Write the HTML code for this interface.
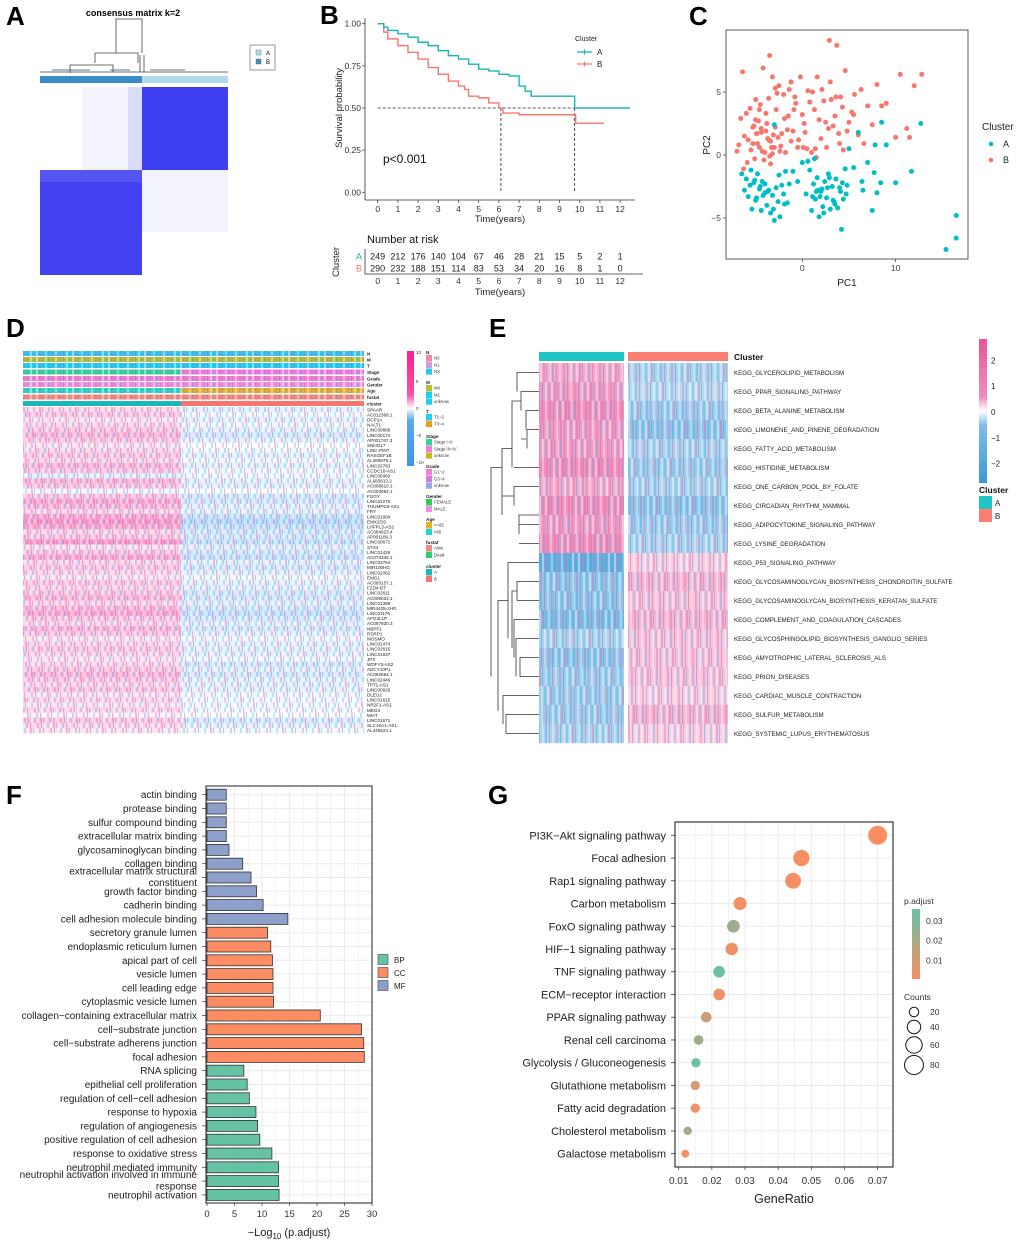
<!DOCTYPE html>
<html><head><meta charset="utf-8">
<style>
html,body{margin:0;padding:0;background:#fff;}
svg{display:block;font-family:"Liberation Sans",Arial,sans-serif;}
</style></head>
<body>
<svg id="fig" width="1020" height="1247" viewBox="0 0 1020 1247" xmlns="http://www.w3.org/2000/svg">
<defs>
<pattern id="stripes" patternUnits="userSpaceOnUse" width="36" height="10">
<rect x="0" y="0" width="2" height="10" fill="#fff" opacity="0.4"/>
<rect x="3" y="0" width="2" height="10" fill="#e8549a" opacity="0.35"/>
<rect x="6" y="0" width="1" height="10" fill="#3a9ad9" opacity="0.4"/>
<rect x="9" y="0" width="2" height="10" fill="#fff" opacity="0.3"/>
<rect x="12" y="0" width="2" height="10" fill="#3a9ad9" opacity="0.3"/>
<rect x="16" y="0" width="1" height="10" fill="#e8549a" opacity="0.45"/>
<rect x="19" y="0" width="2" height="10" fill="#fff" opacity="0.35"/>
<rect x="23" y="0" width="2" height="10" fill="#e8549a" opacity="0.3"/>
<rect x="27" y="0" width="1" height="10" fill="#3a9ad9" opacity="0.45"/>
<rect x="30" y="0" width="2" height="10" fill="#fff" opacity="0.4"/>
<rect x="33" y="0" width="2" height="10" fill="#3a9ad9" opacity="0.25"/>
</pattern>
<linearGradient id="dcbar" x1="0" y1="0" x2="0" y2="1">
<stop offset="0" stop-color="#ff1f8e"/><stop offset="0.38" stop-color="#ff4fa8"/><stop offset="0.5" stop-color="#ffffff"/><stop offset="0.6" stop-color="#5aaaf0"/><stop offset="1" stop-color="#3a94ec"/>
</linearGradient>
<linearGradient id="ecbar" x1="0" y1="0" x2="0" y2="1">
<stop offset="0" stop-color="#e8549a"/><stop offset="0.4" stop-color="#f08cbb"/><stop offset="0.5" stop-color="#ffffff"/><stop offset="0.6" stop-color="#7fbde6"/><stop offset="1" stop-color="#3a9ad9"/>
</linearGradient>
<linearGradient id="gcbar" x1="0" y1="0" x2="0" y2="1">
<stop offset="0" stop-color="#66c2a5"/><stop offset="0.5" stop-color="#b1a784"/><stop offset="1" stop-color="#fc8d62"/>
</linearGradient>
</defs>

<g font-weight="bold" font-size="26" fill="#000">
<text x="6" y="25">A</text>
<text x="320" y="24">B</text>
<text x="689" y="25">C</text>
<text x="6" y="337">D</text>
<text x="489" y="337">E</text>
<text x="6" y="804">F</text>
<text x="488" y="804">G</text>
</g>

<g id="pA">
<text x="133" y="16" font-size="9" font-weight="bold" text-anchor="middle">consensus matrix k=2</text>
<g stroke="#444" stroke-width="0.8" fill="none">
<path d="M116 53 V19 H142 V39"/>
<path d="M95 53 V63"/><path d="M95 53 H138 V63"/>
<path d="M70 65 V73 M70 65 H113 V72"/>
<path d="M142 39 V53"/><path d="M140 55 V72 M144 55 V72"/>
<path d="M40 72 H228 M52 70 H90 M110 70 H130 M150 70 H185"/>
</g>
<rect x="40" y="76" width="102" height="7" fill="#3a8cc4"/>
<rect x="142" y="76" width="86" height="7" fill="#b3dbe9"/>
<rect x="40" y="87" width="188" height="188" fill="#fff"/>
<rect x="142" y="87" width="86" height="83" fill="#3f3ff2"/>
<rect x="40" y="170" width="102" height="105" fill="#4242f0"/>
<rect x="82" y="87" width="60" height="83" fill="#dcdcfc" opacity="0.35"/>
<rect x="128" y="87" width="14" height="83" fill="#b0b0fa" opacity="0.35"/>
<rect x="142" y="170" width="86" height="62" fill="#dcdcfc" opacity="0.35"/>
<rect x="40" y="170" width="102" height="12" fill="#8080f6" opacity="0.3"/>
<rect x="250" y="45" width="25" height="25" fill="#fff" stroke="#555" stroke-width="0.6"/>
<rect x="256" y="50" width="5" height="5" fill="#b3dbe9" stroke="#666" stroke-width="0.4"/>
<text x="266" y="55" font-size="6">A</text>
<rect x="256" y="59" width="5" height="5" fill="#3a8cc4" stroke="#666" stroke-width="0.4"/>
<text x="266" y="64" font-size="6">B</text>
</g>

<g id="pB"></g>
<g id="pC"></g>
<g id="pD"></g>
<g id="pE"></g>
<g id="pF"></g>
<g id="pG"></g>
</svg>

<script>
const kmA_t = [0,0.3,0.5,1,1.5,2,2.5,3,3.5,4,4.5,5,5.5,6,6.5,7,7.3,7.6,9.75,9.75,12.5];
const kmA_s = [1,0.98,0.96,0.94,0.92,0.89,0.87,0.84,0.81,0.79,0.76,0.73,0.72,0.70,0.69,0.63,0.60,0.57,0.57,0.50,0.50];
const kmB_t = [0,0.3,0.5,1,1.5,2,2.5,3,3.5,4,4.3,4.5,5,5.5,6,6.2,7,9.8,9.8,11.2];
const kmB_s = [1,0.95,0.91,0.87,0.83,0.79,0.74,0.70,0.66,0.63,0.61,0.57,0.56,0.53,0.50,0.47,0.46,0.46,0.41,0.41];
const riskA = [249,212,176,140,104,67,46,28,21,15,5,2,1];
const riskB = [290,232,188,151,114,83,53,34,20,16,8,1,0];
const timeTicks = [0,1,2,3,4,5,6,7,8,9,10,11,12];
const survTicks = [0,0.25,0.5,0.75,1];
const medians = [6.1,9.75];

const pcB_x = [-7,-6.6,-6.4,-6,-5.8,-5.5,-5.3,-5,-4.8,-4.6,-4.4,-4.2,-4,-3.8,-3.6,-3.4,-3.2,-3,-2.8,-2.5,-2.2,-2,-1.8,-1.5,-1.2,-1,-0.8,-0.5,-0.2,0,0.3,0.6,1,1.3,1.6,2,2.3,2.6,3,3.3,3.6,4,4.3,4.6,5,5.3,5.6,6,6.3,6.6,7,7.5,8,8.5,9,10,10.5,11.2,11.5,12,12.8,-6.2,-5.6,-5.1,-4.7,-4.3,-3.9,-3.5,-3.1,-2.7,-2.3,-1.9,-1.4,-0.9,-0.4,0.2,0.8,1.4,2.1,2.8,3.5,4.1,4.8,5.5,-5.9,-5.2,-4.5,-3.7,-3.3,-2.9,-2.4,-1.6,-0.7,0.5,1.1,1.8,2.5,3.1,3.9,-3.5,2.9,3.7,-5,-4.1,-3.4,-2.6,-6.8,-6.3,-1.2,0.1,1.5,4.4,-4.6,-3.9,-3.2,-4.9,-4.4,-2.9,-5.3,-3.6];
const pcB_y = [0.3,2.9,6.6,3.3,1.2,0.4,2.2,4.4,0.9,3.6,1.8,6.9,0.2,2.5,4.5,1.1,6.2,0.6,3.6,5.5,1.7,4.8,0.2,3.1,5.8,1.9,4.6,0.6,6.2,3.2,1.8,5.1,0.2,3.6,6.2,1.3,4.3,0.6,5.8,2.3,4.6,0.9,3.8,6.7,2.6,3.4,4.8,1.6,5.2,0.9,3.9,2.4,5.6,3.9,4.1,1.4,6.4,2.1,1.4,5.5,6.4,1.5,3.7,-0.3,2.7,0.3,3.3,-0.1,1.6,4.9,0.7,2.9,5.2,3.6,1.2,2.5,4.2,0.5,5.2,2.1,3.1,4.6,1.9,3.2,-0.6,2.3,4,1.3,0.6,5.3,0.3,2,4.1,0.5,5,2.8,2.6,4.4,1.7,7.9,9.1,8.7,2.8,-0.4,-0.7,1.4,0.8,-1.1,1.1,0.6,-0.2,0.4,0.6,1.9,0.1,1.7,2.1,2.2,0.9,1.2];
const pcA_x = [-6.5,-6.2,-6,-5.8,-5.6,-5.4,-5.2,-5,-4.8,-4.6,-4.4,-4.2,-4,-3.8,-3.6,-3.4,-3.2,-3,-2.8,-2.6,-2.4,-2.2,-2,-1.8,-1.6,-1.4,-1,-0.5,0,0.4,0.8,1,1.2,1.4,1.6,1.8,2,2.2,2.4,2.6,2.8,3,3.2,3.4,3.6,3.8,4,4.2,4.4,4.6,4.8,5,5.5,6,6.5,7,7.5,7.8,8,8.5,9,10,11.7,12.7,16.5,16.5,15.4,4.3,-5.5,-4.9,-4.3,-3.7,-3.1,-2.5,-1.9,0.6,1.1,1.7,2.3,2.9,3.5,4.1,4.7,1.3,2.1,3.3,-3,6.4,7.7,8.4,-4.5,-4,-5.1,1.9,2.7,1.5];
const pcA_y = [-1.5,-2.8,-1.9,-3.3,-2.4,-4.3,-2.2,-3.6,-1.5,-2.7,-4.4,-3.2,-2.3,-4,-2.8,-4.6,-3.2,-5.2,-2.6,-3.7,-4.9,-2.4,-3.1,-1.3,-3.8,-2.3,-1.3,-2.1,-0.6,-3.1,-1.2,-4.4,-2.3,-3.5,-1.8,-4.9,-2.9,-4.1,-2.1,-3.4,-1.5,-4.3,-2.5,-3.7,-1.9,-4.2,-2.6,-5.9,-3.5,-1.1,-2.4,0.5,-1,1.8,-2.8,-0.6,-4.4,0.8,-3,2.6,0.8,-2.2,-1.3,2.5,-4.8,-6.6,-7.5,-2.2,-1.2,-3.4,-2.1,-2.9,-4.3,-1.6,-3.9,-0.5,-3.3,-2.8,-4.6,-1.8,-3.9,-2.9,-3.1,-0.3,-2.7,-3.6,2.4,-2.1,-1.4,-2.2,-2.5,-3,-2,-3.3,-2.6,-2.9];
const pc1Ticks = [0,10];
const pc2Ticks = [-5,0,5];

const genesD = ["SPAAR","AC012368.1","DCP1A","NALT1","LINC00886","LINC00174","AP001767.3","SNHG17","LINC-PINT","RASGEF1B","AL390879.1","LINC02783","CCDC18-AS1","LINC00460","AL683813.2","AC008610.1","AC003092.1","FGGY","LINC02275","THUMPD3-AS1","FRY","LINC01004","EMX2OS","LHFPL3-AS2","AC084923.4","AP001189.3","LINC00671","STX4","LINC01426","AC073346.1","LINC02754","MIR100HG","LINC02062","EMG1","AC093157.1","FZD4-DT","LINC02611","AC009022.1","LINC01389","MIR4435-2HG","LINC01176","AFG3L1P","AC067930.3","NBPF1","RSRP1","MOSMO","LINC01474","LINC02615","LINC01637","JPX","WDFY3-AS2","ADCY10P1","AC092894.1","LINC02446","TPT1-AS1","LINC00926","DLEU2","LINC01615","NR2F1-AS1","MEG3","MIAT","LINC01671","SLC16A1-AS1","AL445524.1"];
const dA = [0.3,0.4,0.2,0.3,0.4,0.5,0.4,0.2,0.3,0.4,0.3,0.5,0.4,-0.2,0.5,0.4,-0.1,0.4,0.6,0.5,0.3,0.6,0.7,0.6,0.3,0.4,0.7,0.2,0.4,0.6,0.3,0.4,0.3,0.2,0.4,0.3,0.4,0.5,0.3,0.5,0.6,0.4,0.3,0.5,0.4,0.2,0.3,0.4,0.3,0.2,0.3,0.4,0.5,0.4,0.3,0.4,0.2,0.3,0.2,0.3,0.1,0.4,0.3,0.2];
const dB = [-0.2,-0.1,-0.2,-0.1,-0.2,-0.3,-0.2,0,-0.1,-0.2,-0.1,-0.2,-0.1,-0.1,-0.2,-0.2,0,-0.3,-0.3,-0.2,-0.2,-0.4,-0.5,-0.4,-0.3,-0.3,-0.4,-0.2,-0.3,-0.4,-0.2,-0.3,-0.2,-0.1,-0.2,-0.2,-0.3,-0.3,-0.2,-0.3,-0.4,-0.3,-0.2,-0.3,-0.2,-0.1,-0.2,-0.2,-0.2,-0.1,-0.3,-0.2,-0.3,-0.2,-0.2,-0.2,-0.1,-0.1,-0.1,-0.1,0,-0.3,-0.2,-0.1];
const annoNames = ["N","M","T","Stage","Grade","Gender","Age","fustat","cluster"];
const annoColA = ["#35c6ef","#b4c232","#1fcfee","#2fd49a","#f47fd6","#f28fe0","#27d6c6","#f58a7c","#1cb8b8"];
const annoColB = ["#35c6ef","#b4c232","#1fcfee","#f07ce0","#f47fd6","#f28fe0","#e0b32a","#f58a7c","#f8766d"];

const keggE = ["KEGG_GLYCEROLIPID_METABOLISM","KEGG_PPAR_SIGNALING_PATHWAY","KEGG_BETA_ALANINE_METABOLISM","KEGG_LIMONENE_AND_PINENE_DEGRADATION","KEGG_FATTY_ACID_METABOLISM","KEGG_HISTIDINE_METABOLISM","KEGG_ONE_CARBON_POOL_BY_FOLATE","KEGG_CIRCADIAN_RHYTHM_MAMMAL","KEGG_ADIPOCYTOKINE_SIGNALING_PATHWAY","KEGG_LYSINE_DEGRADATION","KEGG_P53_SIGNALING_PATHWAY","KEGG_GLYCOSAMINOGLYCAN_BIOSYNTHESIS_CHONDROITIN_SULFATE","KEGG_GLYCOSAMINOGLYCAN_BIOSYNTHESIS_KERATAN_SULFATE","KEGG_COMPLEMENT_AND_COAGULATION_CASCADES","KEGG_GLYCOSPHINGOLIPID_BIOSYNTHESIS_GANGLIO_SERIES","KEGG_AMYOTROPHIC_LATERAL_SCLEROSIS_ALS","KEGG_PRION_DISEASES","KEGG_CARDIAC_MUSCLE_CONTRACTION","KEGG_SULFUR_METABOLISM","KEGG_SYSTEMIC_LUPUS_ERYTHEMATOSUS"];
const eA = [0.7,0.8,0.9,0.8,0.8,0.9,0.7,0.9,0.8,0.9,-1.1,-0.8,-0.8,-0.9,-0.6,-0.8,-0.7,-0.7,-0.7,-0.6];
const eB = [-0.6,-0.5,-0.7,-0.8,-0.6,-0.7,-0.6,-0.8,-0.7,-0.6,0.4,0.6,0.5,0.6,0.5,0.5,0.5,0.4,0.6,0.4];
const eTicks = [2,1,0,-1,-2];

const goTerms = ["actin binding","protease binding","sulfur compound binding","extracellular matrix binding","glycosaminoglycan binding","collagen binding","extracellular matrix structural|constituent","growth factor binding","cadherin binding","cell adhesion molecule binding","secretory granule lumen","endoplasmic reticulum lumen","apical part of cell","vesicle lumen","cell leading edge","cytoplasmic vesicle lumen","collagen\u2212containing extracellular matrix","cell\u2212substrate junction","cell\u2212substrate adherens junction","focal adhesion","RNA splicing","epithelial cell proliferation","regulation of cell\u2212cell adhesion","response to hypoxia","regulation of angiogenesis","positive regulation of cell adhesion","response to oxidative stress","neutrophil mediated immunity","neutrophil activation involved in immune|response","neutrophil activation"];
const goValues = [3.5,3.5,3.5,3.5,4,6.5,8,9,10.2,14.7,11,11.6,11.9,12,12,12.1,20.6,28.1,28.5,28.6,6.7,7.3,7.7,8.9,9.2,9.6,11.8,13,13,13.1];
const goOnt = ["MF","MF","MF","MF","MF","MF","MF","MF","MF","MF","CC","CC","CC","CC","CC","CC","CC","CC","CC","CC","BP","BP","BP","BP","BP","BP","BP","BP","BP","BP"];
const goTicks = [0,5,10,15,20,25,30];

const keggTerms = ["PI3K\u2212Akt signaling pathway","Focal adhesion","Rap1 signaling pathway","Carbon metabolism","FoxO signaling pathway","HIF\u22121 signaling pathway","TNF signaling pathway","ECM\u2212receptor interaction","PPAR signaling pathway","Renal cell carcinoma","Glycolysis / Gluconeogenesis","Glutathione metabolism","Fatty acid degradation","Cholesterol metabolism","Galactose metabolism"];
const geneRatio = [0.070,0.047,0.0445,0.0285,0.0265,0.026,0.0222,0.0222,0.0183,0.016,0.0152,0.015,0.015,0.0127,0.012];
const counts = [80,59,56,38,36,35,30,30,25,21,19,19,19,16,14];
const padj = [0.0005,0.001,0.0015,0.002,0.022,0.003,0.034,0.003,0.012,0.022,0.033,0.008,0.003,0.022,0.002];
const grTicks = [0.01,0.02,0.03,0.04,0.05,0.06,0.07];
const padjTicks = [0.01,0.02,0.03];
const countTicks = [20,40,60,80];

const NS = "http://www.w3.org/2000/svg";
function mk(tag, attrs, parent, txt){
  const e = document.createElementNS(NS, tag);
  for (const k in attrs) e.setAttribute(k, attrs[k]);
  if (txt !== undefined) e.textContent = txt;
  parent.appendChild(e);
  return e;
}
function hex2rgb(h){return [parseInt(h.slice(1,3),16),parseInt(h.slice(3,5),16),parseInt(h.slice(5,7),16)];}
function mix(a,b,t){const A=hex2rgb(a),B=hex2rgb(b);return "rgb("+A.map((v,i)=>Math.round(v+(B[i]-v)*t)).join(",")+")";}
function divColor(v,neg,pos,max){const t=Math.max(-1,Math.min(1,v/max));return t>=0?mix("#ffffff",pos,t):mix("#ffffff",neg,-t);}

(function(){
  const g = document.getElementById("pB");
  const X = t => 377.7 + t*20.2;
  const Y = s => 192.3 - s*168.6;
  let e;
  e = mk("line",{x1:365,y1:18,x2:365,y2:200,stroke:"#333","stroke-width":0.8},g);
  
  
  e = mk("line",{x1:365,y1:200,x2:635,y2:200,stroke:"#333","stroke-width":0.8},g);
  
  
  survTicks.forEach(s=>{
    e = mk("text",{x:361,y:Y(s)+3,"font-size":8.5,"text-anchor":"end",fill:"#333"},g,s.toFixed(2));
    
    
    mk("line",{x1:362,y1:Y(s),x2:365,y2:Y(s),stroke:"#333","stroke-width":0.7},g);
  });
  timeTicks.forEach(t=>{
    e = mk("text",{x:X(t),y:212,"font-size":8.5,"text-anchor":"middle",fill:"#333"},g,String(t));
    
    
    mk("line",{x1:X(t),y1:200,x2:X(t),y2:203,stroke:"#333","stroke-width":0.7},g);
  });
  e = mk("text",{x:500,y:222,"font-size":9.5,"text-anchor":"middle",fill:"#222"},g,"Time(years)");
  
  
  e = mk("text",{x:0,y:0,"font-size":9.5,"text-anchor":"middle",fill:"#222",transform:"translate(342,108) rotate(-90)"},g,"Survival probability");
  
  
  let d = "M"+X(0)+" "+Y(0.5)+" H"+X(medians[1]);
  medians.forEach(m=>{ d += " M"+X(m)+" "+Y(0.5)+" V"+Y(0); });
  e = mk("path",{d:d,stroke:"#222","stroke-width":0.8,"stroke-dasharray":"3,2",fill:"none"},g);
  
  
  function stepPath(ts,ss){let p="M"+X(ts[0])+" "+Y(ss[0]);for(let i=1;i<ts.length;i++){p+=" H"+X(ts[i])+" V"+Y(ss[i]);}return p;}
  e = mk("path",{d:stepPath(kmB_t,kmB_s),stroke:"#f8766d","stroke-width":1.4,fill:"none"},g);
  
  
  e = mk("path",{d:stepPath(kmA_t,kmA_s),stroke:"#19b5b5","stroke-width":1.4,fill:"none"},g);
  
  
  e = mk("text",{x:383,y:163,"font-size":12,fill:"#111"},g,"p<0.001");
  
  
  e = mk("text",{x:575,y:41,"font-size":7,fill:"#222"},g,"Cluster");
  
  
  [["A","#19b5b5",52],["B","#f8766d",64]].forEach(r=>{
    e = mk("path",{d:"M577 "+r[2]+" H592 M584.5 "+(r[2]-2.5)+" V"+(r[2]+2.5),stroke:r[1],"stroke-width":1.3},g);
    
    
    e = mk("text",{x:597,y:r[2]+3,"font-size":8,fill:"#222"},g,r[0]);
    
    
  });
  e = mk("text",{x:367,y:243,"font-size":11,fill:"#111"},g,"Number at risk");
  
  
  [[riskA,256,"A","#19b5b5"],[riskB,268,"B","#f8766d"]].forEach(r=>{
    r[0].forEach((v,i)=>{
      e = mk("text",{x:X(timeTicks[i]),y:r[1]+3.5,"font-size":9,"text-anchor":"middle",fill:"#222"},g,String(v));
      
      
    });
    e = mk("text",{x:362,y:r[1]+3.5,"font-size":9,"text-anchor":"end",fill:r[3]},g,r[2]);
    
    
  });
  mk("line",{x1:365,y1:249,x2:365,y2:274,stroke:"#333","stroke-width":0.8},g);
  mk("line",{x1:365,y1:274,x2:643,y2:274,stroke:"#333","stroke-width":0.8},g);
  timeTicks.forEach(t=>{
    e = mk("text",{x:X(t),y:284,"font-size":8.5,"text-anchor":"middle",fill:"#333"},g,String(t));
    
    
  });
  e = mk("text",{x:500,y:295,"font-size":9.5,"text-anchor":"middle",fill:"#222"},g,"Time(years)");
  
  
  e = mk("text",{x:0,y:0,"font-size":9.5,"text-anchor":"middle",fill:"#222",transform:"translate(339,262) rotate(-90)"},g,"Cluster");
  
  
})();

(function(){
  const g = document.getElementById("pC");
  const X = v => 802.3 + v*9.33;
  const Y = v => 155 - v*12.6;
  let e;
  e = mk("rect",{x:726,y:30,width:242,height:229,fill:"#fff",stroke:"#333","stroke-width":0.8},g);
  
  
  pcB_x.forEach((v,i)=>{
    e = mk("circle",{cx:X(v),cy:Y(pcB_y[i]),r:2.5,fill:"#f8766d"},g);
    
    
  });
  pcA_x.forEach((v,i)=>{
    e = mk("circle",{cx:X(v),cy:Y(pcA_y[i]),r:2.5,fill:"#00bfc4"},g);
    
    
  });
  pc1Ticks.forEach(t=>{
    mk("line",{x1:X(t),y1:259,x2:X(t),y2:262,stroke:"#333","stroke-width":0.7},g);
    e = mk("text",{x:X(t),y:271,"font-size":8.5,"text-anchor":"middle",fill:"#444"},g,String(t));
    
    
  });
  pc2Ticks.forEach(t=>{
    mk("line",{x1:723,y1:Y(t),x2:726,y2:Y(t),stroke:"#333","stroke-width":0.7},g);
    e = mk("text",{x:721,y:Y(t)+3,"font-size":8.5,"text-anchor":"end",fill:"#444"},g,t<0?"\u2212"+(-t):String(t));
    
    
  });
  e = mk("text",{x:847,y:286,"font-size":10,"text-anchor":"middle",fill:"#222"},g,"PC1");
  
  
  e = mk("text",{x:0,y:0,"font-size":10,"text-anchor":"middle",fill:"#222",transform:"translate(710,145) rotate(-90)"},g,"PC2");
  
  
  e = mk("text",{x:982,y:130,"font-size":10,fill:"#222"},g,"Cluster");
  
  
  [["A","#00bfc4",144],["B","#f8766d",160]].forEach(r=>{
    e = mk("circle",{cx:991,cy:r[2],r:2.3,fill:r[1]},g);
    
    
    e = mk("text",{x:1003,y:r[2]+3,"font-size":9,fill:"#222"},g,r[0]);
    
    
  });
})();

(function(){
  const g = document.getElementById("pD");
  const x0=23, xs=181, x1=364, y0=407, y1=733;
  const rh = (y1-y0)/genesD.length;
  let e;
  const annoY = [351,357,363,369.5,376,382,388,394.5,401];
  annoNames.forEach((n,i)=>{
    e = mk("rect",{x:x0,y:annoY[i],width:xs-x0,height:5,fill:annoColA[i]},g);
    
    
    e = mk("rect",{x:xs,y:annoY[i],width:x1-xs,height:5,fill:annoColB[i]},g);
    
    
    if(i<8){
      e = mk("rect",{x:x0,y:annoY[i],width:x1-x0,height:5,fill:"url(#stripes)"},g);
      
      
    }
    e = mk("text",{x:367,y:annoY[i]+4.5,"font-size":4.5,"font-weight":"bold",fill:"#222"},g,n);
    
    
  });
  genesD.forEach((gn,i)=>{
    const y = y0 + i*rh;
    e = mk("rect",{x:x0,y:y,width:xs-x0,height:rh+0.2,fill:divColor(dA[i],"#3399ff","#ff3399",1.4)},g);
    
    
    e = mk("rect",{x:xs,y:y,width:x1-xs,height:rh+0.2,fill:divColor(dB[i],"#3399ff","#ff3399",1.4)},g);
    
    
    const off = (i*13)%36;
    e = mk("rect",{x:x0-off,y:y,width:x1-x0,height:rh+0.2,fill:"url(#stripes)",transform:"translate("+off+",0)"},g);
    
    
    e = mk("text",{x:367,y:y+rh-0.8,"font-size":4.6,fill:"#222"},g,gn);
    
    
  });
  e = mk("rect",{x:407,y:351,width:7,height:115,fill:"url(#dcbar)"},g);
  
  
  [["10",354],["5",383],["0",410],["\u22125",437],["\u221210",464]].forEach(t=>{
    e = mk("text",{x:416,y:t[1],"font-size":4.5,fill:"#333"},g,t[0]);
    
    
  });
  const leg = [["N",351,[["N0","#f4879f"],["N1","#c9a0e8"],["NX","#35c6ef"]]],
    ["M",381,[["M0","#b4c232"],["M1","#1fcfee"],["unknow","#1fcfee"]]],
    ["T",410,[["T1~2","#1fcfee"],["T3~4","#e8a21a"]]],
    ["Stage",435,[["Stage I~II","#2fd49a"],["Stage III~IV","#f07ce0"],["unknow","#c8b820"]]],
    ["Grade",465,[["G1~2","#f47fd6"],["G3~4","#d87ad8"],["unknow","#98a8f0"]]],
    ["Gender",495,[["FEMALE","#2ecc55"],["MALE","#f28fe0"]]],
    ["Age",518,[["<=65","#e0b32a"],[">65","#27d6c6"]]],
    ["fustat",541,[["Alive","#f58a7c"],["Dead","#2ecc71"]]],
    ["cluster",565,[["A","#1cb8b8"],["B","#f8766d"]]]];
  leg.forEach(L=>{
    e = mk("text",{x:426,y:L[1]+3,"font-size":4.6,"font-weight":"bold",fill:"#222"},g,L[0]);
    
    
    L[2].forEach((it,j)=>{
      const yy = L[1]+4+j*6.7;
      e = mk("rect",{x:426,y:yy,width:6,height:6.3,fill:it[1]},g);
      
      
      e = mk("text",{x:434,y:yy+4.7,"font-size":4.3,fill:"#333"},g,it[0]);
      
      
    });
  });
})();

(function(){
  const g = document.getElementById("pE");
  const ax0=539, ax1=624, bx0=628, bx1=728, y0=363, rh=19;
  let e;
  e = mk("rect",{x:ax0,y:352,width:ax1-ax0,height:9,fill:"#1fc4c4"},g);
  
  
  e = mk("rect",{x:bx0,y:352,width:bx1-bx0,height:9,fill:"#fa7f72"},g);
  
  
  e = mk("text",{x:734,y:360,"font-size":8.5,"font-weight":"bold",fill:"#111"},g,"Cluster");
  
  
  keggE.forEach((k,i)=>{
    const y = y0 + i*rh;
    e = mk("rect",{x:ax0,y:y,width:ax1-ax0,height:rh+0.2,fill:divColor(eA[i],"#3a9ad9","#e8549a",1.4)},g);
    
    
    e = mk("rect",{x:bx0,y:y,width:bx1-bx0,height:rh+0.2,fill:divColor(eB[i],"#3a9ad9","#e8549a",1.4)},g);
    
    
    const off=(i*11)%36;
    e = mk("rect",{x:ax0-off,y:y,width:ax1-ax0,height:rh+0.2,fill:"url(#stripes)",transform:"translate("+off+",0)"},g);
    
    
    e = mk("rect",{x:bx0-off,y:y,width:bx1-bx0,height:rh+0.2,fill:"url(#stripes)",transform:"translate("+off+",0)"},g);
    
    
    e = mk("text",{x:734,y:y+rh/2+2.3,"font-size":6.2,fill:"#222"},g,k);
    
    
  });
  const yc = i => y0 + i*rh + rh/2;
  const dd = ["M539 "+yc(0)+" H517 V"+yc(1),"M539 "+yc(1)+" H521 V"+yc(2),"M539 "+yc(2)+" H526 V"+yc(3),"M539 "+yc(3)+" H527 V"+yc(4),
   "M526 "+((yc(3)+yc(4))/2)+" H521","M521 "+yc(1.5)+" H512 V"+yc(5),"M539 "+yc(5)+" H514","M539 "+yc(6)+" H514 V"+yc(7),"M539 "+yc(7.5)+" H519 V"+yc(8.5),
   "M539 "+yc(8)+" H519","M539 "+yc(9)+" H519","M512 "+yc(4)+" H502 V"+yc(7.5),"M514 "+yc(6.5)+" H502",
   "M502 "+yc(5)+" H491 V"+yc(16),"M539 "+yc(10)+" H508 V"+yc(14),"M539 "+yc(11)+" H517 V"+yc(12),"M539 "+yc(12)+" H517","M517 "+yc(11.5)+" H512 V"+yc(14.5),
   "M539 "+yc(13)+" H514 V"+yc(15),"M539 "+yc(14)+" H516 V"+yc(16),"M539 "+yc(15)+" H520 V"+yc(16),"M539 "+yc(16)+" H520",
   "M539 "+yc(17)+" H503 V"+yc(18.5),"M539 "+yc(18)+" H506 V"+yc(19),"M539 "+yc(19)+" H506","M508 "+yc(12)+" H498 V"+yc(17.8)];
  e = mk("path",{d:dd.join(" "),stroke:"#333","stroke-width":0.8,fill:"none"},g);
  
  
  e = mk("rect",{x:979,y:339,width:8,height:144,fill:"url(#ecbar)"},g);
  
  
  eTicks.forEach(t=>{
    e = mk("text",{x:991,y:412-t*25.8+3,"font-size":8,fill:"#222"},g,t<0?"\u2212"+(-t):String(t));
    
    
  });
  e = mk("text",{x:979,y:493,"font-size":8.5,"font-weight":"bold",fill:"#111"},g,"Cluster");
  
  
  [["A","#1fc4c4",496],["B","#fa7f72",509]].forEach(r=>{
    e = mk("rect",{x:979,y:r[2],width:13,height:13,fill:r[1]},g);
    
    
    e = mk("text",{x:995,y:r[2]+10,"font-size":8,fill:"#222"},g,r[0]);
    
    
  });
})();

(function(){
  const g = document.getElementById("pF");
  const X = v => 207 + v*5.5;
  const Y = i => 794.7 + i*13.8;
  const col = {BP:"#66c2a5",CC:"#fc8d62",MF:"#8da0cb"};
  let e;
  e = mk("rect",{x:206,y:786,width:166,height:417,fill:"#fff"},g);
  
  
  for(let v=0; v<=30; v+=2.5){
    mk("line",{x1:X(v),y1:786,x2:X(v),y2:1203,stroke:"#ebebeb","stroke-width":v%5===0?1:0.6},g);
  }
  goTerms.forEach((t,i)=>{
    mk("line",{x1:206,y1:Y(i),x2:372,y2:Y(i),stroke:"#ebebeb","stroke-width":1},g);
  });
  goTerms.forEach((t,i)=>{
    e = mk("rect",{x:X(0),y:Y(i)-5.5,width:X(goValues[i])-X(0),height:11,fill:col[goOnt[i]],stroke:"#333","stroke-width":0.8},g);
    
    
    const parts = t.split("|");
    if(parts.length===1){
      e = mk("text",{x:197,y:Y(i)+3.5,"font-size":10,"text-anchor":"end",fill:"#222"},g,t);
      
      
    } else {
      e = mk("text",{x:197,y:Y(i)-3,"font-size":10,"text-anchor":"end",fill:"#222"},g,parts[0]);
      
      
      e = mk("text",{x:197,y:Y(i)+8.5,"font-size":10,"text-anchor":"end",fill:"#222"},g,parts[1]);
      
      
    }
    mk("line",{x1:202,y1:Y(i),x2:206,y2:Y(i),stroke:"#333","stroke-width":0.7},g);
  });
  e = mk("rect",{x:206,y:786,width:166,height:417,fill:"none",stroke:"#222","stroke-width":1},g);
  
  
  goTicks.forEach(t=>{
    mk("line",{x1:X(t),y1:1203,x2:X(t),y2:1206,stroke:"#333","stroke-width":0.7},g);
    e = mk("text",{x:X(t),y:1217,"font-size":9.5,"text-anchor":"middle",fill:"#333"},g,String(t));
    
    
  });
  e = mk("text",{x:289,y:1236,"font-size":11,"text-anchor":"middle",fill:"#222"},g,"");
  
  
  mk("tspan",{},e,"\u2212Log");
  mk("tspan",{"font-size":8,dy:3},e,"10");
  mk("tspan",{dy:-3},e," (p.adjust)");
  [["BP",960],["CC",973],["MF",986]].forEach(r=>{
    e = mk("rect",{x:378,y:r[1]-5.5,width:10,height:10,fill:col[r[0]],stroke:"#444","stroke-width":0.6},g);
    
    
    e = mk("text",{x:394,y:r[1]+3,"font-size":8,fill:"#222"},g,r[0]);
    
    
  });
})();

(function(){
  const g = document.getElementById("pG");
  const X = v => 678.7 + (v-0.01)*3316;
  const Y = i => 835.3 + i*22.74;
  const R = c => 1.06*Math.sqrt(c);
  const C = p => mix("#fc8d62","#66c2a5",Math.min(1,p/0.035));
  let e;
  for(let v=0.005; v<=0.0751; v+=0.005){
    if(X(v)>675 && X(v)<893) mk("line",{x1:X(v),y1:822,x2:X(v),y2:1167,stroke:"#ebebeb","stroke-width":Math.round(v*1000)%10===0?1:0.6},g);
  }
  keggTerms.forEach((t,i)=>{
    mk("line",{x1:675,y1:Y(i),x2:893,y2:Y(i),stroke:"#ebebeb","stroke-width":1},g);
  });
  keggTerms.forEach((t,i)=>{
    e = mk("circle",{cx:X(geneRatio[i]),cy:Y(i),r:R(counts[i]),fill:C(padj[i])},g);
    
    
    e = mk("text",{x:666,y:Y(i)+4,"font-size":11,"text-anchor":"end",fill:"#222"},g,t);
    
    
    mk("line",{x1:671,y1:Y(i),x2:675,y2:Y(i),stroke:"#333","stroke-width":0.8},g);
  });
  e = mk("rect",{x:675,y:822,width:218,height:345,fill:"none",stroke:"#222","stroke-width":1.1},g);
  
  
  grTicks.forEach(t=>{
    mk("line",{x1:X(t),y1:1167,x2:X(t),y2:1170,stroke:"#333","stroke-width":0.7},g);
    e = mk("text",{x:X(t),y:1184,"font-size":10,"text-anchor":"middle",fill:"#333"},g,t.toFixed(2));
    
    
  });
  e = mk("text",{x:784,y:1203,"font-size":12.5,"text-anchor":"middle",fill:"#222"},g,"GeneRatio");
  
  
  e = mk("text",{x:904,y:904,"font-size":8.5,fill:"#333"},g,"p.adjust");
  
  
  e = mk("rect",{x:912,y:909,width:8,height:70,fill:"url(#gcbar)"},g);
  
  
  padjTicks.forEach(t=>{
    const yy = 979 - (t/0.01)*19.7 + 1;
    e = mk("text",{x:926,y:yy+3,"font-size":8.5,fill:"#333"},g,t.toFixed(2));
    
    
  });
  e = mk("text",{x:904,y:1000,"font-size":8.5,fill:"#333"},g,"Counts");
  
  
  const ly = [1012,1027,1045,1065];
  countTicks.forEach((c,i)=>{
    e = mk("circle",{cx:914,cy:ly[i],r:R(c),fill:"none",stroke:"#111","stroke-width":1},g);
    
    
    e = mk("text",{x:930,y:ly[i]+3,"font-size":8.5,fill:"#333"},g,String(c));
    
    
  });
})();
</script>
</body></html>
